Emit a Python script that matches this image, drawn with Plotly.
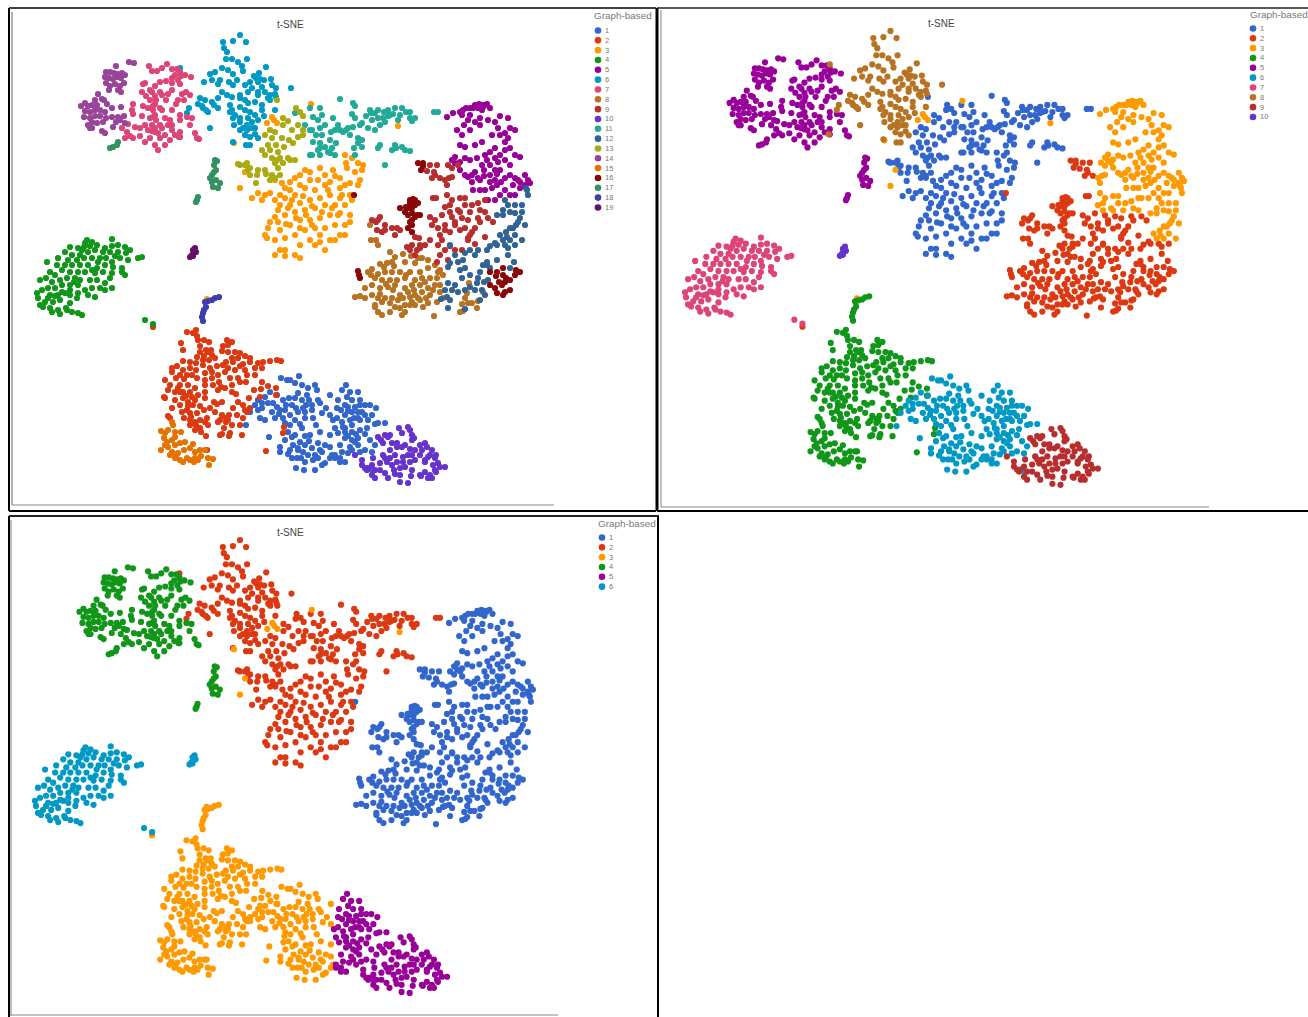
import plotly.graph_objects as go

palette = ["#3366cc","#dc3912","#ff9900","#109618","#990099","#0099c6","#dd4477","#b77322","#b82e2e","#6633cc",
           "#22aa99","#316395","#aaaa11","#994499","#e67300","#8b0707","#329262","#3b3eac","#651067"]
legend_counts = [19, 10, 6]
title_text = "t-SNE"
legend_title = "Graph-based"

c1a = [(281,378),(287,380),(299,376),(290,380),(295,383),(302,385),(308,388),(315,385),(317,390),(307,395),(270,392),(277,395),(265,397),(258,400),(262,403),(268,403),(273,403),(277,407),(283,400),(289,398),(295,398),(302,400),(306,405),(312,405),(318,400),(255,405),(250,412),(258,410),(262,408),(272,412),(275,418),(280,410),(285,410),(292,405),(298,412),(305,412),(312,410),(320,403),(260,418),(265,420),(283,418),(290,415),(295,420),(305,418),(313,418),(322,413),(326,408),(246,425),(269,437),(285,423),(290,425),(302,428),(316,425),(320,432),(310,435),(305,436),(295,435),(288,432),(292,437),(285,440),(280,447),(293,445),(300,442),(305,445),(312,448),(318,443),(325,445),(330,447),(280,452),(290,450),(298,450),(303,452),(308,455),(315,455),(320,450),(292,458),(297,458),(305,462),(313,460),(318,458),(322,465),(296,468),(304,470),(315,470),(325,463),(330,458),(330,415),(330,435),(332,455),(330,395),(298,393),(303,408),(309,400),(296,408),(286,405),(279,414),(300,424),(298,448),(309,441),(301,458),(288,454),(322,452)]
c1b = [(335,455),(340,458),(342,390),(350,392),(358,392),(347,397),(352,400),(345,405),(360,400),(341,410),(348,407),(355,407),(360,405),(337,418),(345,415),(352,412),(358,412),(365,405),(370,405),(376,408),(333,420),(342,422),(350,420),(358,418),(365,415),(372,415),(335,428),(345,428),(352,425),(360,420),(368,420),(378,423),(385,423),(338,433),(345,432),(352,432),(360,430),(367,428),(375,424),(345,438),(352,440),(358,438),(365,434),(370,440),(340,445),(358,445),(355,442),(375,445),(342,452),(348,453),(360,452),(350,447),(365,450),(345,462),(335,458),(372,470),(340,462),(352,450),(372,452),(338,400),(337,408),(346,385),(348,411),(354,418),(348,436),(356,434),(362,412),(343,427)]
c2 = [(187,332),(193,333),(196,330),(197,336),(181,343),(183,350),(198,340),(204,340),(209,342),(200,346),(206,350),(211,350),(227,340),(223,346),(228,345),(232,342),(204,356),(208,352),(212,355),(222,351),(228,352),(235,352),(240,353),(197,357),(203,360),(209,360),(215,358),(232,358),(238,358),(245,356),(226,362),(183,361),(190,362),(196,363),(203,365),(210,368),(217,366),(223,365),(233,362),(243,364),(250,362),(258,363),(263,362),(270,361),(277,360),(281,361),(172,368),(177,366),(183,370),(190,368),(196,370),(205,373),(212,372),(218,375),(225,372),(235,370),(245,370),(255,368),(262,368),(172,372),(180,375),(187,375),(197,378),(205,380),(212,378),(219,382),(230,378),(238,378),(247,375),(255,375),(165,380),(170,385),(176,378),(180,385),(188,385),(195,388),(205,385),(213,385),(221,387),(232,385),(240,382),(246,382),(262,382),(164,397),(168,390),(175,392),(183,392),(190,392),(198,395),(205,392),(218,390),(225,388),(232,392),(236,394),(165,398),(175,400),(183,398),(188,402),(195,400),(205,398),(214,402),(254,390),(261,389),(268,386),(249,398),(260,397),(276,388),(276,395),(180,405),(187,410),(193,405),(190,413),(197,413),(200,406),(217,404),(222,402),(238,402),(243,405),(172,408),(170,418),(168,416),(182,412),(184,418),(204,410),(210,408),(233,408),(247,412),(250,408),(229,415),(237,415),(243,418),(215,412),(222,415),(226,422),(190,420),(195,422),(200,420),(207,418),(228,420),(245,410),(240,425),(232,425),(224,428),(190,425),(196,425),(205,422),(200,428),(195,430),(201,432),(208,425),(218,422),(220,420),(226,418),(222,434),(230,433),(229,436),(242,435),(220,435),(206,436),(266,451),(284,427),(283,433),(207,450),(200,352),(192,375),(184,379),(178,388),(240,366),(228,368),(250,358),(186,396),(180,392),(192,397),(188,406),(191,417)]
c3 = [(352,158),(345,155),(358,163),(363,165),(362,170),(355,172),(347,168),(346,163),(335,176),(320,168),(310,172),(300,175),(305,170),(295,178),(290,182),(282,183),(275,180),(325,175),(333,170),(310,180),(300,185),(290,190),(280,195),(270,193),(265,195),(252,198),(258,193),(262,200),(275,200),(285,198),(295,195),(305,188),(315,190),(325,185),(340,188),(345,185),(350,183),(340,178),(358,185),(290,205),(280,205),(300,203),(310,200),(320,198),(330,195),(340,198),(350,195),(278,210),(275,217),(285,215),(295,212),(305,210),(315,208),(325,205),(335,205),(345,205),(268,228),(270,222),(265,235),(267,238),(280,230),(290,225),(300,220),(310,220),(320,218),(330,215),(340,213),(350,215),(345,225),(275,240),(285,238),(295,235),(305,230),(315,228),(325,228),(335,225),(340,235),(335,240),(320,235),(310,240),(300,245),(295,255),(285,250),(280,250),(275,255),(300,258),(285,256),(315,245),(325,250),(330,240),(345,235),(350,222),(320,242),(342,195),(338,215),(360,180),(352,200),(285,188),(292,200),(303,196),(312,206),(318,180),(328,190),(306,215),(296,218),(286,224),(278,222),(312,225),(322,212),(332,208),(288,208),(330,182),(300,228)]
c4 = [(87,240),(112,239),(92,242),(85,243),(70,247),(78,248),(82,250),(97,245),(105,248),(112,246),(118,245),(125,247),(130,250),(138,258),(142,257),(65,252),(72,255),(80,255),(88,252),(95,250),(103,252),(110,252),(118,252),(126,253),(58,258),(68,260),(77,260),(84,258),(92,258),(98,262),(106,258),(112,262),(120,258),(128,260),(47,262),(57,265),(65,265),(72,265),(80,265),(88,265),(97,268),(105,265),(113,267),(122,268),(50,272),(55,275),(62,270),(70,272),(78,272),(85,272),(95,273),(103,272),(112,273),(122,272),(125,275),(40,280),(46,278),(52,282),(60,280),(67,278),(75,278),(80,280),(90,280),(97,280),(105,283),(110,278),(112,288),(37,293),(42,290),(48,288),(55,288),(62,285),(70,285),(78,285),(85,290),(92,288),(100,288),(105,290),(38,298),(50,295),(58,295),(65,293),(70,295),(78,293),(88,295),(95,297),(40,305),(45,302),(53,302),(60,300),(70,303),(77,298),(66,308),(67,310),(43,307),(50,308),(52,312),(58,310),(60,314),(72,312),(78,313),(82,315),(145,320),(153,324),(74,282),(70,290),(62,292),(55,296),(92,270),(100,258),(115,256),(84,247),(90,246),(48,298)]
c5 = [(447,117),(453,113),(460,112),(463,110),(462,115),(466,108),(473,108),(478,108),(483,105),(487,104),(490,108),(475,105),(482,110),(470,115),(480,118),(475,122),(468,120),(464,125),(457,130),(462,135),(470,130),(480,125),(488,120),(495,122),(500,116),(508,118),(498,128),(505,133),(510,128),(508,138),(515,130),(460,145),(465,147),(475,145),(482,142),(492,135),(500,135),(505,142),(495,148),(490,152),(485,155),(495,158),(505,150),(510,148),(515,155),(520,157),(452,160),(455,157),(455,163),(460,162),(465,158),(470,160),(477,158),(482,165),(490,165),(498,162),(505,160),(510,165),(460,170),(465,175),(475,172),(468,177),(484,170),(490,175),(495,170),(500,170),(490,182),(495,180),(497,185),(505,178),(510,175),(515,178),(513,185),(518,180),(525,175),(528,180),(525,185),(530,183),(520,188),(515,195),(505,190),(500,195),(510,195),(495,200),(488,200),(480,180),(480,190),(485,190),(472,182),(473,190),(472,175),(478,178),(484,106),(479,104),(470,108),(500,155),(497,174),(487,160),(492,188),(501,182),(520,182),(484,176)]
c6 = [(240,35),(223,42),(233,41),(246,42),(224,48),(227,52),(247,59),(226,59),(232,59),(238,62),(242,66),(266,67),(222,68),(215,72),(210,74),(228,70),(233,74),(243,71),(259,73),(256,78),(250,82),(258,82),(264,80),(271,79),(204,82),(212,80),(220,80),(218,84),(229,82),(237,80),(233,85),(245,85),(252,88),(262,87),(272,85),(276,88),(291,88),(222,92),(227,95),(240,95),(248,92),(258,92),(265,92),(270,95),(200,98),(205,100),(212,102),(218,98),(232,97),(240,98),(245,100),(258,95),(268,98),(275,94),(198,104),(203,108),(208,112),(214,105),(218,108),(230,105),(232,110),(240,107),(248,103),(255,102),(262,105),(270,100),(276,97),(206,110),(202,106),(230,112),(235,115),(245,110),(250,112),(262,110),(275,110),(233,118),(240,118),(248,118),(255,115),(264,116),(234,125),(240,122),(247,125),(252,122),(258,120),(240,130),(247,130),(255,128),(245,135),(250,137),(258,138),(246,145),(233,142),(210,128),(189,108),(187,113),(179,137),(180,68),(250,145),(255,134),(254,76),(260,79),(252,128),(243,128)]
c7 = [(149,66),(152,71),(157,71),(162,68),(167,64),(172,69),(177,69),(180,72),(185,75),(191,77),(181,76),(180,84),(172,78),(178,80),(145,83),(143,84),(150,90),(155,86),(160,82),(166,81),(172,83),(186,92),(182,94),(178,100),(172,90),(160,92),(152,92),(146,96),(155,96),(162,95),(168,94),(166,100),(176,104),(184,100),(190,95),(133,104),(132,110),(143,106),(148,108),(155,104),(153,110),(160,108),(172,110),(180,115),(187,117),(192,118),(190,125),(180,120),(170,120),(165,118),(155,115),(150,118),(142,116),(133,114),(156,120),(160,125),(152,125),(145,125),(135,127),(128,124),(122,128),(127,132),(130,136),(125,138),(133,138),(140,128),(140,136),(148,130),(155,132),(162,128),(168,125),(172,130),(165,135),(170,140),(160,138),(150,138),(145,142),(155,145),(158,150),(165,145),(175,135),(180,132),(195,133),(197,138),(199,139),(180,137),(172,125),(155,128),(162,110),(150,100),(142,92),(175,75),(153,106),(153,117),(156,100),(152,131),(158,133)]
c8 = [(380,264),(387,263),(392,262),(405,262),(415,263),(422,258),(368,272),(372,269),(371,275),(385,272),(392,272),(400,272),(410,272),(420,272),(428,268),(435,265),(440,270),(375,278),(382,280),(390,280),(397,280),(405,278),(415,280),(422,278),(430,278),(437,278),(443,275),(365,288),(372,285),(380,288),(388,287),(395,285),(405,288),(412,285),(420,285),(428,288),(435,285),(440,285),(355,297),(360,296),(365,298),(372,295),(378,298),(385,298),(392,298),(400,295),(408,292),(415,295),(422,292),(430,295),(440,292),(443,298),(375,305),(382,302),(390,303),(398,300),(405,305),(412,302),(420,300),(428,303),(437,302),(375,307),(378,312),(382,315),(390,312),(400,308),(405,312),(402,315),(410,305),(415,305),(423,307),(434,316),(395,307),(465,298),(468,303),(472,303),(462,304),(478,301),(463,311),(460,312),(477,308),(467,293),(469,283),(483,292),(406,275),(390,252),(395,257),(403,254),(411,256),(418,258),(428,260),(370,225),(371,240),(376,240),(378,245),(384,267),(394,266),(378,274),(386,284),(393,290),(380,294),(414,290),(425,282),(418,298),(426,298),(433,290),(438,272),(403,298),(410,297)]
c9a = [(448,165),(452,168),(458,165),(445,180),(447,185),(449,178),(452,177),(447,195),(452,200),(460,198),(465,198),(450,205),(445,207),(450,212),(458,210),(465,205),(472,205),(478,203),(485,200),(480,210),(470,212),(460,212),(485,212)]
c9b = [(427,171),(434,172),(430,165),(437,165),(435,175),(432,178),(440,178),(433,198),(436,198),(452,217),(455,222),(462,218),(468,220),(478,218),(430,217),(435,220),(432,225),(445,225),(442,215),(445,230),(440,235),(438,228),(372,220),(378,220),(380,217),(376,222),(385,225),(385,230),(392,228),(397,228),(400,230),(377,230),(395,235),(382,232),(465,228),(472,232),(480,222),(488,218),(460,230),(455,225),(450,232),(415,255),(417,250),(420,245),(425,245),(430,240),(420,248),(410,250),(412,245),(438,245),(442,240),(450,246),(455,250),(445,250),(440,255),(437,262),(448,260),(415,237),(419,238),(462,250),(468,238),(475,228),(468,240),(470,235),(493,222),(485,237),(475,244),(407,247)]
c10 = [(399,428),(408,427),(385,435),(390,435),(402,433),(410,430),(412,435),(414,438),(378,437),(383,443),(381,440),(388,437),(392,443),(397,443),(405,445),(412,440),(420,445),(425,443),(427,447),(432,450),(383,455),(390,450),(397,447),(402,447),(410,449),(415,450),(422,450),(430,455),(436,455),(385,458),(390,458),(395,455),(403,457),(408,455),(412,455),(420,455),(425,460),(428,457),(435,458),(380,463),(387,462),(392,465),(397,462),(403,462),(410,462),(415,460),(425,462),(433,465),(438,463),(362,460),(355,455),(373,458),(362,465),(368,468),(372,465),(365,468),(367,470),(375,470),(380,470),(385,473),(394,470),(400,468),(405,467),(412,470),(420,475),(425,472),(430,475),(435,470),(440,467),(436,472),(445,467),(388,478),(395,474),(400,475),(400,482),(411,476),(421,476),(428,478),(432,478),(408,483),(372,475),(375,478)]
c11 = [(340,99),(353,103),(355,106),(370,110),(375,113),(366,116),(371,113),(378,110),(384,112),(388,110),(395,108),(393,114),(402,108),(406,112),(383,118),(388,116),(378,118),(372,120),(362,123),(352,114),(355,118),(346,130),(353,127),(360,125),(368,128),(375,130),(380,125),(390,115),(400,115),(398,120),(410,118),(412,121),(385,122),(410,112),(415,118),(295,113),(310,108),(320,108),(322,115),(313,117),(318,120),(325,125),(333,118),(338,125),(343,132),(348,128),(331,132),(335,130),(320,128),(312,130),(316,135),(322,135),(330,140),(340,130),(350,135),(358,138),(362,140),(358,143),(354,148),(362,147),(395,145),(396,148),(402,147),(405,150),(410,151),(392,150),(378,148),(380,145),(332,148),(336,143),(330,153),(313,142),(320,143),(325,147),(320,155),(328,152),(335,155),(320,148),(318,150),(312,155),(310,155),(385,165),(355,155),(310,130),(305,125),(434,112),(438,112)]
c12a = [(505,200),(508,205),(515,205),(522,205),(510,212),(503,210),(497,215),(503,215),(515,213),(522,212),(520,218),(516,225),(513,228),(518,222),(525,225),(510,228),(500,235),(506,232),(503,240),(510,240),(515,235),(522,240),(507,237),(527,190),(528,195),(526,188)]
c12b = [(495,243),(490,246),(497,245),(505,245),(508,248),(515,245),(487,250),(450,245),(455,255),(465,253),(470,250),(475,255),(478,250),(463,260),(508,255),(450,263),(458,262),(448,267),(460,270),(465,268),(470,275),(462,278),(455,285),(448,283),(445,290),(452,290),(458,292),(465,290),(470,287),(477,283),(483,265),(487,262),(490,268),(480,272),(478,278),(484,282),(475,290),(482,290),(488,280),(497,260),(450,300),(447,297),(441,299),(448,308),(465,309),(480,300),(485,295),(487,265),(514,262),(510,268)]
c13 = [(277,100),(296,108),(300,112),(303,116),(283,118),(288,121),(270,130),(275,132),(283,125),(298,125),(292,130),(303,130),(265,135),(272,138),(282,138),(289,140),(303,135),(298,137),(268,145),(276,145),(284,147),(293,143),(262,150),(270,150),(278,152),(265,155),(272,158),(280,158),(288,158),(275,163),(283,163),(290,160),(278,168),(295,160),(240,165),(245,165),(247,163),(238,164),(248,170),(250,168),(258,170),(265,170),(257,175),(266,174),(272,175),(250,175),(256,183),(280,175),(270,180),(275,178),(277,160)]
c14 = [(129,62),(134,63),(116,66),(106,72),(110,72),(114,73),(118,74),(122,73),(105,77),(109,78),(113,79),(117,77),(121,78),(125,75),(106,83),(110,86),(115,84),(120,86),(124,83),(109,90),(118,90),(121,92),(98,94),(102,99),(95,100),(85,103),(81,106),(88,106),(92,105),(97,105),(104,100),(107,104),(85,111),(90,112),(95,110),(100,110),(105,112),(84,117),(90,118),(95,116),(100,116),(106,118),(112,108),(121,107),(92,122),(97,123),(103,122),(88,125),(90,128),(112,117),(118,117),(124,116),(116,122),(125,123),(92,128),(113,127),(102,131),(105,133),(120,120)]
c15 = [(172,422),(173,425),(161,431),(165,433),(168,430),(175,432),(181,432),(164,438),(167,442),(172,440),(175,437),(165,445),(161,450),(168,447),(175,445),(180,443),(185,442),(172,452),(178,453),(184,450),(190,448),(193,444),(195,452),(200,450),(205,450),(208,458),(213,459),(175,458),(180,460),(187,458),(190,460),(195,458),(201,456),(198,460),(194,462),(209,465),(176,456),(170,455),(183,462)]
c16 = [(410,200),(413,199),(415,200),(406,207),(410,203),(408,208),(412,208),(415,205),(418,203),(400,208),(405,212),(408,215),(412,213),(410,222),(408,228),(412,225),(415,217),(417,215),(412,220),(420,215),(412,232),(418,163),(423,163),(421,170),(423,166),(354,195),(490,272),(497,272),(503,275),(506,278),(496,276),(499,282),(505,282),(490,285),(495,288),(502,285),(510,280),(515,275),(520,272),(516,270),(497,293),(503,295),(505,292),(510,290),(358,271),(359,275),(360,278),(503,268)]
c17 = [(110,148),(113,147),(117,145),(118,142),(215,160),(214,165),(212,175),(210,178),(212,182),(216,180),(220,183),(213,187),(218,188),(198,197),(197,200),(196,202),(216,170),(214,172),(217,161)]
c18 = [(219,297),(215,298),(212,300),(208,301),(205,302),(206,307),(204,310),(203,313),(202,317),(203,321)]
c19 = [(195,248),(194,252),(192,255),(190,257),(193,250),(196,252),(193,256)]
strays = [(234,143),(245,172),(207,299),(153,327),(272,117),(267,123),(274,120),(240,188),(311,104),(398,126),(277,123)]
stray_labels_1 = [3,3,3,2,3,3,3,3,3,3,3]
stray_labels_2 = [3,3,3,2,3,3,3,3,3,3,3]
stray_labels_3 = [3,3,3,3,3,3,3,3,3,3,3]

clusters = [c1a,c1b,c2,c3,c4,c5,c6,c7,c8,c9a,c9b,c10,c11,c12a,c12b,c13,c14,c15,c16,c17,c18,c19]
labels_1 = [1,1,2,3,4,5,6,7,8,9,9,10,11,12,12,13,14,15,16,17,18,19]
labels_2 = [6,6,4,1,7,3,8,5,2,3,2,9,1,3,2,1,5,4,2,5,4,10]
labels_3 = [3,5,3,2,6,1,2,4,1,1,1,5,2,1,1,2,4,3,1,4,3,6]

W, H = 1308, 1017
fig = go.Figure()

panels = [
    dict(box=(12,650,12,505), sx=1.0, dx=0.0, sy=1.0, dy=0.0, labels=labels_1, stray=stray_labels_1),
    dict(box=(661,1300,10,507), sx=1.012, dx=647.6, sy=1.013, dy=-4.5, labels=labels_2, stray=stray_labels_2),
    dict(box=(12,650,520,1015), sx=1.01, dx=-2.4, sy=1.011, dy=504.6, labels=labels_3, stray=stray_labels_3),
]
layout_axes = {}
for i, p in enumerate(panels):
    xa = f"x{i+1}" if i else "x"
    ya = f"y{i+1}" if i else "y"
    points = {}
    for pts, lab in zip(clusters, p["labels"]):
        points.setdefault(lab, []).extend(pts)
    for pt, lab in zip(strays, p["stray"]):
        points.setdefault(lab, []).append(pt)
    for lab in sorted(points):
        fig.add_trace(go.Scatter(
            x=[q[0] for q in points[lab]], y=[q[1] for q in points[lab]], mode="markers",
            xaxis=xa, yaxis=ya, showlegend=False, cliponaxis=False,
            marker=dict(size=6.2, color=palette[lab-1], line=dict(width=0))))
    x0, x1, y0, y1 = p["box"]
    key = "" if i == 0 else str(i+1)
    layout_axes["xaxis"+key] = dict(domain=[x0/W, x1/W], range=[(x0-p["dx"])/p["sx"], (x1-p["dx"])/p["sx"]],
                                    visible=False, anchor=ya, fixedrange=True)
    layout_axes["yaxis"+key] = dict(domain=[1-y1/H, 1-y0/H], range=[(y1-p["dy"])/p["sy"], (y0-p["dy"])/p["sy"]],
                                    visible=False, anchor=xa, fixedrange=True)

def line(x0, y0, x1, y1, color, w):
    return dict(type="line", xref="paper", yref="paper", x0=x0/W, x1=x1/W, y0=1-y0/H, y1=1-y1/H,
                line=dict(color=color, width=w), layer="below")

shapes = [
    line(9,8,656,8,"#000",1.5), line(9,8,9,511,"#000",2), line(9,511,656,511,"#000",2), line(657,8,657,511,"#000",3),
    line(657,8,1308,8,"#222",1.5), line(657,511,1308,511,"#000",2),
    line(9,516,659,516,"#222",2), line(9,516,9,1017,"#000",2), line(658,516,658,1017,"#000",2),
    line(12,12,12,505,"#999",1.5), line(12,505,554,505,"#888",1.2),
    line(661,10,661,507,"#999",1.2), line(661,507,1209,507,"#888",1.2),
    line(11,520,11,1016,"#aaa",1.5), line(11,1015,558,1015,"#888",1.2),
]
annotations = []
def text(x, y, s, size, color, anchor="left"):
    annotations.append(dict(xref="paper", yref="paper", x=x/W, y=1-y/H, text=s, showarrow=False, xanchor=anchor,
                            yanchor="middle", xshift=0, font=dict(family="Liberation Sans", size=size, color=color)))

titles = [(290,25),(941,23),(290,532)]
legend_pos = [(592,16,598,30.5),(1248,14,1253,28.5),(596,523,602,537.5)]
for (tx,ty),(lx,ly,mx,my),n in zip(titles,legend_pos,legend_counts):
    text(tx,ty,title_text,10,"#444","center")
    text(lx,ly,legend_title,9.9,"#777")
    for k in range(n):
        cy = my + k*9.83
        shapes.append(dict(type="circle", xref="paper", yref="paper", x0=(mx-3.3)/W, x1=(mx+3.3)/W,
                           y0=1-(cy+3.3)/H, y1=1-(cy-3.3)/H, fillcolor=palette[k], line=dict(width=0)))
        text(mx+5,cy,str(k+1),7.5,"#777")

fig.update_layout(width=W, height=H, margin=dict(l=0,r=0,t=0,b=0), plot_bgcolor="white", paper_bgcolor="white",
                  shapes=shapes, annotations=annotations, showlegend=False, **layout_axes)
fig.write_html("out.html", config={"displayModeBar": False}, post_script="document.body.style.margin='0';")
